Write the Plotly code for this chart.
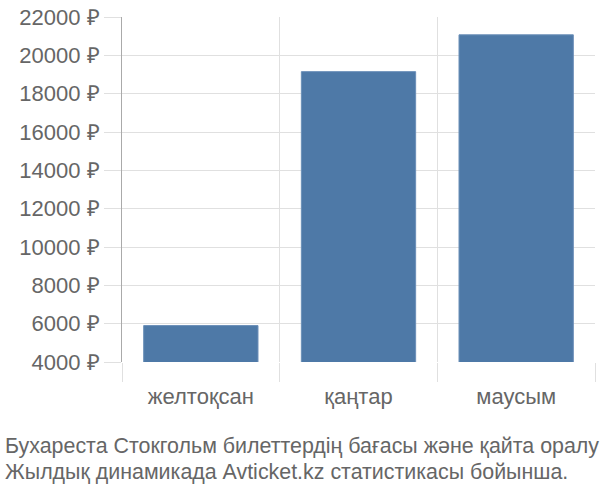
import plotly.graph_objects as go

# Data
months = ["желтоқсан", "қаңтар", "маусым"]
prices = [5900, 19150, 21070]
tick_values = [4000, 6000, 8000, 10000, 12000, 14000, 16000, 18000, 20000, 22000]
tick_labels = [f"{v} ₽" for v in tick_values]

caption_lines = [
    "Бухареста Стокгольм билеттердің бағасы және қайта оралу",
    "Жылдық динамикада Avticket.kz статистикасы бойынша.",
]

fig = go.Figure(go.Bar(
    x=months,
    y=prices,
    marker=dict(color="#4e79a7", line=dict(color="#6b8fb8", width=1)),
))

fig.update_layout(
    width=600,
    height=500,
    margin=dict(l=122, r=5, t=14, b=138),
    paper_bgcolor="white",
    plot_bgcolor="white",
    bargap=0.275,
    showlegend=False,
    font=dict(family="Liberation Sans, Arial, sans-serif", size=22, color="#666666"),
)

# caption under the chart, one annotation per line (centres at ~447px and ~473px)
for line, ypos in zip(caption_lines, [-0.2443, -0.319]):
    fig.add_annotation(
        text=line,
        xref="paper", yref="paper",
        x=-0.2516, y=ypos,
        xanchor="left", yanchor="middle",
        showarrow=False,
        font=dict(size=21.4, color="#666666"),
    )

fig.update_xaxes(
    type="category",
    tickson="boundaries",
    ticks="outside",
    ticklen=19,
    tickcolor="#e0e0e0",
    ticklabelstandoff=19,
    showgrid=True,
    gridcolor="#e0e0e0",
    gridwidth=1,
    showline=False,
    tickfont=dict(size=22, color="#666666"),
)

fig.update_yaxes(
    range=[4000, 22000],
    tickvals=tick_values,
    ticktext=tick_labels,
    ticks="outside",
    ticklen=17,
    tickcolor="#e0e0e0",
    showgrid=True,
    gridcolor="#e0e0e0",
    showline=True,
    linecolor="#aaaaaa",
    linewidth=1,
    zeroline=False,
    tickfont=dict(size=22, color="#666666"),
)

# page has a default 8px body margin; drop it so the 600x500 figure fits the window
fig.write_html(
    "out.html",
    config={"displayModeBar": False},
    post_script="document.body.style.margin='0';document.body.style.overflow='hidden';",
)
